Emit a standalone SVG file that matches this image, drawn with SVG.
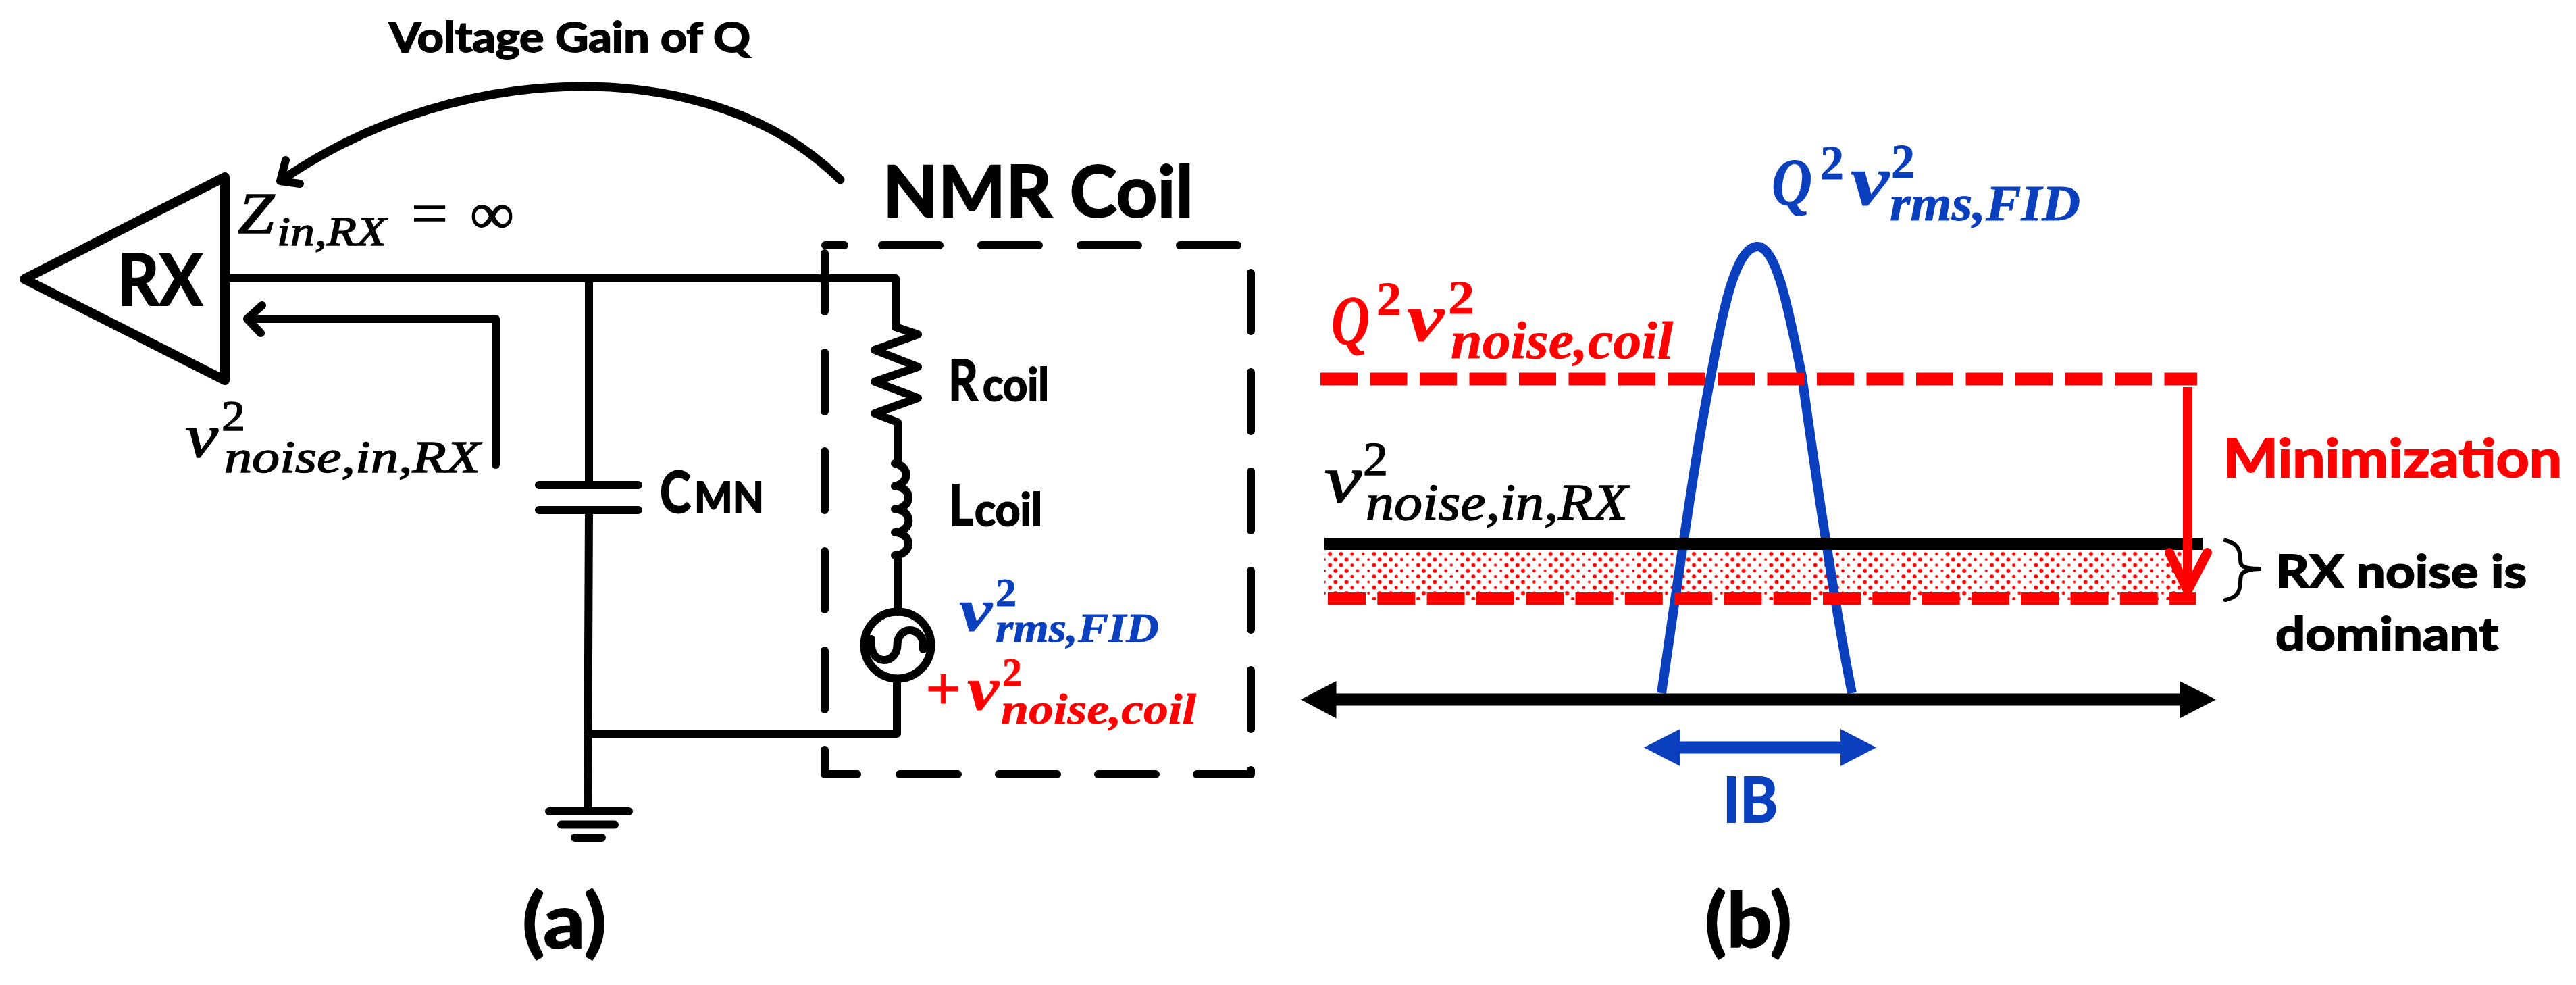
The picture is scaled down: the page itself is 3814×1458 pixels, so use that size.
<svg xmlns="http://www.w3.org/2000/svg" width="3814" height="1458" viewBox="0 0 3814 1458">
<defs>
<style>
.w{fill:none;stroke:#000;stroke-width:12;stroke-linecap:round;stroke-linejoin:round}
.s{font-family:"Lato","Liberation Sans",sans-serif;font-weight:700;fill:#000;stroke:#000;stroke-width:2}
.m{font-family:"Liberation Serif",serif;font-style:italic;font-weight:400;fill:#000;stroke:#000;stroke-width:1.5}
.mb{font-family:"Liberation Serif",serif;font-style:italic;font-weight:700}
.up{font-family:"Liberation Serif",serif;font-style:normal}
.red{fill:#FF0000;stroke:#FF0000}
.blue{fill:#0A3FBD;stroke:#0A3FBD}
.mb.red,.mb.blue{stroke-width:.8}
</style>
<pattern id="dots" patternUnits="userSpaceOnUse" x="1961" y="815.8" width="65.32" height="16.6">
<g fill="#FF0000">
<circle cx="8.2" cy="4.2" r="3"/><circle cx="24.5" cy="4.2" r="3"/><circle cx="40.9" cy="4.2" r="2.6"/><circle cx="57.2" cy="4.2" r="2.2"/>
<circle cx="0" cy="12.5" r="2"/><circle cx="16.3" cy="12.5" r="3"/><circle cx="32.7" cy="12.5" r="3"/><circle cx="49" cy="12.5" r="2.4"/><circle cx="65.32" cy="12.5" r="2"/>
</g>
</pattern>
</defs>
<rect width="3814" height="1458" fill="#fff"/>

<g id="connectors">
<path class="w" d="M333 412H1326V484"/>
<path class="w" d="M872 412V718M872 755L870 1201"/>
<path class="w" d="M870 1086H1328V1005"/>
<path class="w" d="M1326 484L1359 495L1295 518L1359 543L1295 565L1359 589L1295 612L1329 625V686"/>
<path class="w" d="M1329 822V906"/>
<path class="w" d="M734 688V472H368"/>
<path class="w" d="M388 452L366 472L386 493"/>
<path class="w" style="stroke-width:13" d="M1244 266C1060 82 685 82 418 266"/>
<path class="w" d="M423 237L415 268L444 272"/>
</g>

<g id="rx">
<path class="w" d="M333 262L36 413L333 563Z" style="stroke-width:14"/>
<text class="s" x="174" y="452" font-size="106" textLength="126" lengthAdjust="spacingAndGlyphs">RX</text>
</g>

<g id="z-label">
<text class="m" x="352" y="345" font-size="86" textLength="54" lengthAdjust="spacingAndGlyphs">Z</text>
<text class="m" x="410" y="363" font-size="62" textLength="162" lengthAdjust="spacingAndGlyphs">in,RX</text>
<text class="m up" x="609" y="345" font-size="86" textLength="54" lengthAdjust="spacingAndGlyphs">=</text>
<text class="m up" x="696" y="345" font-size="86" textLength="65" lengthAdjust="spacingAndGlyphs">∞</text>
</g>

<g id="gain-label">
<text class="s" x="576" y="77" font-size="61" textLength="535" lengthAdjust="spacingAndGlyphs">Voltage Gain of Q</text>
</g>

<g id="rx-noise-label">
<text class="m" x="274" y="676" font-size="92" textLength="49" lengthAdjust="spacingAndGlyphs">v</text>
<text class="m up" x="328" y="637" font-size="64" textLength="35" lengthAdjust="spacingAndGlyphs">2</text>
<text class="m" x="332" y="699" font-size="68" textLength="379" lengthAdjust="spacingAndGlyphs">noise,in,RX</text>
</g>

<g id="capacitor">
<path class="w" d="M798 718H945M798 755H945"/>
<text class="s" x="977" y="759" font-size="86" textLength="46" lengthAdjust="spacingAndGlyphs">C</text>
<text class="s" x="1028" y="759" font-size="64" textLength="103" lengthAdjust="spacingAndGlyphs">MN</text>
</g>

<g id="ground">
<path class="w" d="M813 1201H931M831 1220.5H910M851 1240H891"/>
</g>

<g id="nmr-coil">
<path class="w" d="M1222 363H1250M1306 363H1391M1453 363H1538M1600 363H1685M1747 363H1832"/>
<path class="w" d="M1221 375V461M1221 522V609M1221 668V755M1221 816V902M1221 963V1050M1221 1110V1146H1269M1332 1146H1418M1479 1146H1565M1626 1146H1711M1772 1146H1852V1140"/>
<path class="w" d="M1852 404V490M1852 551V638M1852 698V785M1852 845V932M1852 992V1079"/>
<text class="s" x="1307" y="321" font-size="105" textLength="460" lengthAdjust="spacingAndGlyphs">NMR Coil</text>
</g>

<g id="rcoil">
<text class="s" x="1404" y="593" font-size="84" textLength="44" lengthAdjust="spacingAndGlyphs">R</text>
<text class="s" x="1455" y="593" font-size="66" textLength="98" lengthAdjust="spacingAndGlyphs">coil</text>
</g>

<g id="lcoil">
<path class="w" d="M1325 686A20 17 0 0 1 1325 719.5A20 17 0 0 1 1325 753.5A20 17 0 0 1 1325 788A20 17 0 0 1 1325 822"/>
<text class="s" x="1405" y="778" font-size="84" textLength="36" lengthAdjust="spacingAndGlyphs">L</text>
<text class="s" x="1443" y="778" font-size="66" textLength="100" lengthAdjust="spacingAndGlyphs">coil</text>
</g>

<g id="source">
<circle class="w" cx="1329" cy="955" r="49.5"/>
<path class="w" d="M1290 946V955C1290 967 1298 977 1309 977C1320 977 1328.5 967 1328.5 955C1328.5 943 1336 933 1347 933C1358 933 1367 943 1367 955V961"/>
<text class="mb blue" x="1420" y="933" font-size="88" textLength="49" lengthAdjust="spacingAndGlyphs">v</text>
<text class="mb up blue" x="1474" y="897" font-size="60" textLength="31" lengthAdjust="spacingAndGlyphs">2</text>
<text class="mb blue" x="1474" y="950" font-size="62" textLength="242" lengthAdjust="spacingAndGlyphs">rms,FID</text>
<text class="mb up red" x="1370" y="1050" font-size="92" textLength="53" lengthAdjust="spacingAndGlyphs">+</text>
<text class="mb red" x="1432" y="1050" font-size="92" textLength="47" lengthAdjust="spacingAndGlyphs">v</text>
<text class="mb up red" x="1484" y="1015" font-size="60" textLength="29" lengthAdjust="spacingAndGlyphs">2</text>
<text class="mb red" x="1482" y="1071" font-size="64" textLength="289" lengthAdjust="spacingAndGlyphs">noise,coil</text>
</g>

<g id="caption-a"><text class="s" x="773" y="1403" font-size="112" textLength="125" lengthAdjust="spacingAndGlyphs">(a)</text></g>

<g id="noise-band">
<rect x="1961" y="815" width="1280" height="73" fill="url(#dots)"/>
</g>

<g id="fid-peak">
<path d="M2460 1026C2480 890 2510 670 2533 557C2545 495 2565 365 2602 365C2632 365 2650 470 2668 557C2685 680 2715 890 2742 1026" fill="none" stroke="#0A3FBD" stroke-width="14" stroke-linejoin="round"/>
<text class="mb blue" x="2623" y="303" font-size="100" textLength="60" lengthAdjust="spacingAndGlyphs">Q</text>
<text class="mb up blue" x="2695" y="265" font-size="72" textLength="35" lengthAdjust="spacingAndGlyphs">2</text>
<text class="mb blue" x="2740" y="303" font-size="105" textLength="57" lengthAdjust="spacingAndGlyphs">v</text>
<text class="mb up blue" x="2800" y="263" font-size="72" textLength="35" lengthAdjust="spacingAndGlyphs">2</text>
<text class="mb blue" x="2798" y="326" font-size="74" textLength="282" lengthAdjust="spacingAndGlyphs">rms,FID</text>
</g>

<g id="coil-noise-level">
<path d="M1955 561H3253" fill="none" stroke="#FF0000" stroke-width="19" stroke-dasharray="55 18.5"/>
<text class="mb red" x="1971" y="509" font-size="104" textLength="57" lengthAdjust="spacingAndGlyphs">Q</text>
<text class="mb up red" x="2038" y="466" font-size="70" textLength="37" lengthAdjust="spacingAndGlyphs">2</text>
<text class="mb red" x="2083" y="504" font-size="100" textLength="55" lengthAdjust="spacingAndGlyphs">v</text>
<text class="mb up red" x="2144" y="464" font-size="70" textLength="39" lengthAdjust="spacingAndGlyphs">2</text>
<text class="mb red" x="2148" y="530" font-size="78" textLength="329" lengthAdjust="spacingAndGlyphs">noise,coil</text>
</g>

<g id="rx-noise-level">
<path d="M1961 805H3261" fill="none" stroke="#000" stroke-width="18"/>
<path d="M1966 886H3251" fill="none" stroke="#FF0000" stroke-width="18" stroke-dasharray="56 17.3"/>
<text class="m" x="1961" y="743" font-size="100" textLength="55" lengthAdjust="spacingAndGlyphs">v</text>
<text class="m up" x="2018" y="703" font-size="70" textLength="37" lengthAdjust="spacingAndGlyphs">2</text>
<text class="m" x="2022" y="769" font-size="76" textLength="388" lengthAdjust="spacingAndGlyphs">noise,in,RX</text>
</g>

<g id="minimization">
<path d="M3239 573V870" fill="none" stroke="#FF0000" stroke-width="14"/>
<path d="M3212 818L3239 874L3268 818" fill="none" stroke="#FF0000" stroke-width="14" stroke-linecap="round" stroke-linejoin="round"/>
<text class="s red" x="3292" y="706" font-size="78" textLength="501" lengthAdjust="spacingAndGlyphs">Minimization</text>
</g>

<g id="dominant-note">
<path d="M3295 800C3322 806 3315 825 3318 835C3320 841 3333 842 3348 842C3333 842 3320 845 3318 852C3315 865 3322 882 3295 888" fill="none" stroke="#000" stroke-width="6" stroke-linecap="round"/>
<text class="s" x="3370" y="870" font-size="67" textLength="371" lengthAdjust="spacingAndGlyphs">RX noise is</text>
<text class="s" x="3369" y="962" font-size="67" textLength="330" lengthAdjust="spacingAndGlyphs">dominant</text>
</g>

<g id="freq-axis">
<path fill="#000" d="M1926 1035.5L1978.5 1008V1026.5H3227V1008L3281 1035.5L3227 1063.5V1044.5H1978.5V1063.5Z"/>
</g>

<g id="ib">
<path style="fill:#0A3FBD" d="M2434 1106.5L2487.5 1079V1097.5H2725V1079L2778 1106.5L2725 1134V1115.5H2487.5V1134Z"/>
<text class="s blue" x="2551" y="1217" font-size="92" textLength="81" lengthAdjust="spacingAndGlyphs">IB</text>
</g>

<g id="caption-b"><text class="s" x="2524" y="1402" font-size="112" textLength="129" lengthAdjust="spacingAndGlyphs">(b)</text></g>
</svg>
